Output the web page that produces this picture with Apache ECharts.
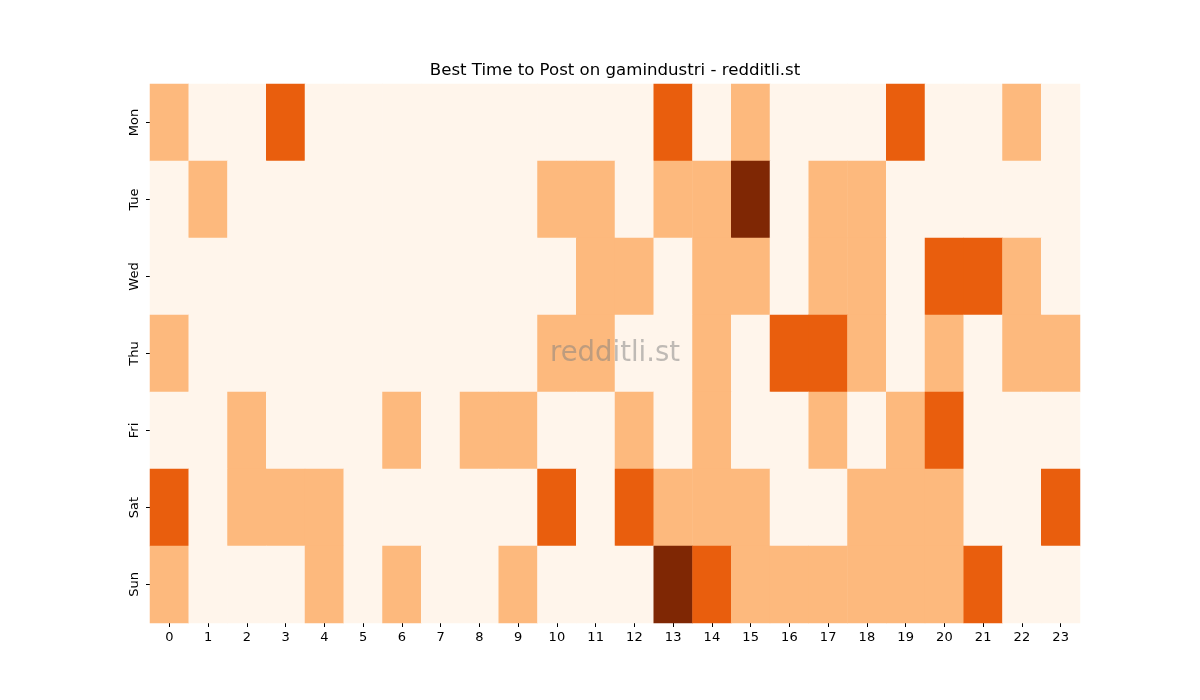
<!DOCTYPE html>
<html>
<head>
    <meta charset="utf-8">
    <title>Best Time to Post</title>
    <script src="https://cdn.jsdelivr.net/npm/echarts@6/dist/echarts.min.js"></script>
    <style>
        html, body { margin: 0; padding: 0; background: #fff; }
    </style>
</head>
<body>
    <div id="main" style="width: 1200px;height:700px;"></div>
    <script type="text/javascript">
var hours = ['0','1','2','3','4','5','6','7','8','9','10','11','12','13','14','15','16','17','18','19','20','21','22','23'];
var days = ['Mon', 'Tue', 'Wed', 'Thu', 'Fri', 'Sat', 'Sun'];

// activity level per hour (0..3)
var mon = [1,0,0,2,0,0,0,0,0,0,0,0,0,2,0,1,0,0,0,2,0,0,1,0];
var tue = [0,1,0,0,0,0,0,0,0,0,1,1,0,1,1,3,0,1,1,0,0,0,0,0];
var wed = [0,0,0,0,0,0,0,0,0,0,0,1,1,0,1,1,0,1,1,0,2,2,1,0];
var thu = [1,0,0,0,0,0,0,0,0,0,1,1,0,0,1,0,2,2,1,0,1,0,1,1];
var fri = [0,0,1,0,0,0,1,0,1,1,0,0,1,0,1,0,0,1,0,1,2,0,0,0];
var sat = [2,0,1,1,1,0,0,0,0,0,2,0,2,1,1,1,0,0,1,1,1,0,0,2];
var sun = [1,0,0,0,1,0,1,0,0,1,0,0,0,3,2,1,1,1,1,1,1,2,0,0];

var rows = [mon, tue, wed, thu, fri, sat, sun];
var data = [];
for (var d = 0; d < rows.length; d++) {
    for (var h = 0; h < hours.length; h++) {
        data.push([h, d, rows[d][h]]);
    }
}

var myChart = echarts.init(document.getElementById('main'));
var font = 'DejaVu Sans';

option = {
    animation: false,
    backgroundColor: '#ffffff',
    title: {
        text: 'Best Time to Post on gamindustri - redditli.st',
        left: 610,
        textAlign: 'center',
        top: 57,
        textStyle: { fontFamily: font, fontSize: 16.6, fontWeight: 'normal', color: '#000' }
    },
    grid: { left: 150, right: 120, top: 84, bottom: 77 },
    xAxis: {
        type: 'category',
        data: hours,
        axisLine: { show: false },
        axisTick: { show: true, alignWithLabel: true, length: 4, lineStyle: { color: '#000' } },
        axisLabel: { fontFamily: font, fontSize: 13, color: '#000', margin: 8, interval: 0 },
        splitLine: { show: false }
    },
    yAxis: {
        type: 'category',
        data: days,
        inverse: true,
        axisLine: { show: false },
        axisTick: { show: true, alignWithLabel: true, length: 4, lineStyle: { color: '#000' } },
        axisLabel: { fontFamily: font, fontSize: 13, color: '#000', rotate: 90, margin: 9 },
        splitLine: { show: false }
    },
    visualMap: {
        show: false,
        type: 'piecewise',
        dimension: 2,
        pieces: [
            { value: 0, color: '#fff5eb' },
            { value: 1, color: '#fdb97d' },
            { value: 2, color: '#e95e0d' },
            { value: 3, color: '#7f2704' }
        ]
    },
    graphic: [{
        type: 'text',
        left: 550,
        top: 340,
        z: 100,
        style: {
            text: 'redditli.st',
            fontFamily: font,
            fontSize: 27.5,
            fill: 'rgba(128,128,128,0.5)'
        }
    }],
    series: [{
        type: 'heatmap',
        data: data,
        itemStyle: { borderWidth: 0 },
        emphasis: { disabled: true }
    }]
};

myChart.setOption(option);
    </script>
</body>
</html>
